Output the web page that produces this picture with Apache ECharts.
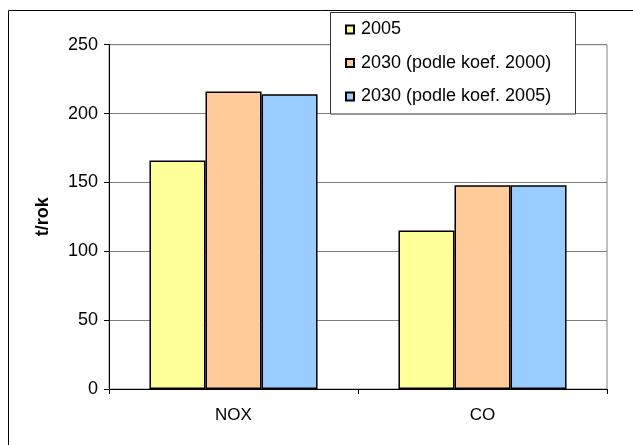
<!DOCTYPE html>
<html>
<head>
<meta charset="utf-8">
<script src="https://cdn.jsdelivr.net/npm/echarts@6/dist/echarts.min.js"></script>
<style>
  html, body { margin: 0; padding: 0; background: #fff; }
  #chart { width: 633px; height: 445px; }
</style>
</head>
<body>
<div id="chart"></div>
<script>
// Emissions by pollutant (t/rok)
const categories = ['NOX', 'CO'];
const seriesNames = ['2005', '2030 (podle koef. 2000)', '2030 (podle koef. 2005)'];
const values2005 = [166, 115];
const values2030k2000 = [216, 148];
const values2030k2005 = [214, 148];
const yTicks = [0, 50, 100, 150, 200, 250];

const colors = ['#FFFF99', '#FFCC99', '#99CCFF'];
const seriesData = [values2005, values2030k2000, values2030k2005];
const font = '"Liberation Sans", Arial, sans-serif';

const chart = echarts.init(document.getElementById('chart'), null, { renderer: 'canvas' });

chart.setOption({
  animation: false,
  backgroundColor: '#ffffff',
  textStyle: { fontFamily: font },
  grid: {
    left: 109, right: 26, top: 44.7, bottom: 56,
    show: true, borderColor: '#808080', borderWidth: 1
  },
  graphic: [
    {
      type: 'rect', z: 0,
      shape: { x: 8.5, y: 10.5, width: 700, height: 500 },
      style: { fill: 'none', stroke: '#000', lineWidth: 1 }
    },
    {
      type: 'rect', z: 5,
      shape: { x: 330.5, y: 12.5, width: 245, height: 101.5 },
      style: { fill: '#fff', stroke: '#333', lineWidth: 1 }
    }
  ],
  legend: {
    z: 10,
    orient: 'vertical',
    left: 345, top: 20,
    padding: 0,
    itemWidth: 8, itemHeight: 8,
    itemGap: 14.5,
    icon: 'rect',
    textStyle: { fontFamily: font, fontSize: 18, color: '#000', lineHeight: 19, padding: [0, 0, 0, 2] },
    data: seriesNames
  },
  xAxis: {
    type: 'category',
    data: categories,
    axisLine: { lineStyle: { color: '#000', width: 1 } },
    axisTick: { show: true, length: 5, inside: false, lineStyle: { color: '#000' } },
    axisLabel: { margin: 18, fontFamily: font, fontSize: 17, color: '#000' },
    splitLine: { show: false }
  },
  yAxis: {
    type: 'value',
    min: 0, max: yTicks[yTicks.length - 1], interval: 50,
    name: 't/rok',
    nameLocation: 'middle',
    nameGap: 57,
    nameTextStyle: { fontFamily: font, fontSize: 18, fontWeight: 'bold', color: '#000' },
    axisLine: { show: true, lineStyle: { color: '#000', width: 1 } },
    axisTick: { show: true, length: 5, lineStyle: { color: '#000' } },
    axisLabel: { margin: 11, fontFamily: font, fontSize: 18, color: '#000' },
    splitLine: { show: true, lineStyle: { color: '#808080', width: 1 } }
  },
  series: seriesNames.map((name, i) => ({
    name: name,
    type: 'bar',
    data: seriesData[i],
    barGap: '0%',
    barCategoryGap: '32.5%',
    itemStyle: { color: colors[i], borderColor: '#000', borderWidth: 1.5 }
  }))
});
</script>
</body>
</html>
